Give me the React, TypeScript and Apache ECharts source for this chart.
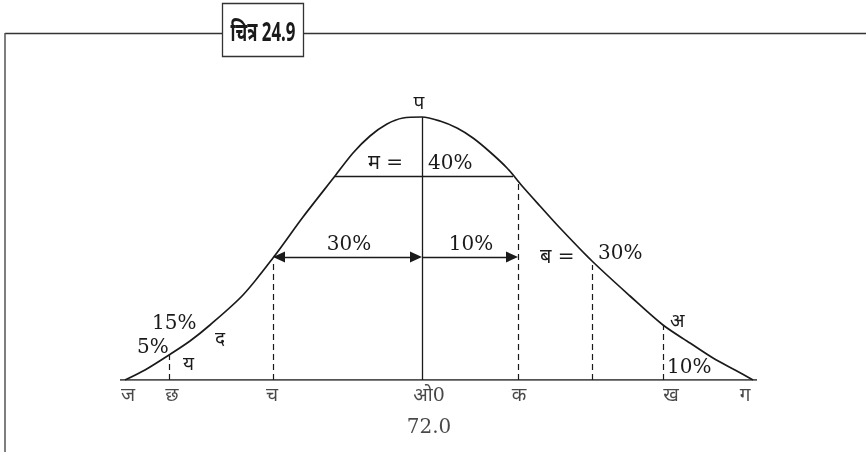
import React, { useEffect, useRef } from "react";
import * as echarts from "echarts";

// Curve (x: offset from mean, y: height; arbitrary units)
const curveX = [-2.97, -2.77, -2.53, -2.32, -2.12, -1.79, -1.49, -1.19, -0.87, -0.69, -0.52, -0.35, -0.19, 0, 0.18, 0.35, 0.51, 0.68, 0.85, 1.01, 1.18, 1.38, 1.7, 2.08, 2.41, 2.68, 2.91, 3.13, 3.31];
const curveY = [0, 0.1, 0.25, 0.39, 0.55, 0.85, 1.22, 1.63, 2.04, 2.27, 2.44, 2.56, 2.62, 2.63, 2.59, 2.52, 2.42, 2.28, 2.12, 1.93, 1.74, 1.52, 1.19, 0.84, 0.55, 0.37, 0.22, 0.1, 0];
const baselineX = [-3.02, 3.35];
const peakHeight = 2.63;
const chordY = 2.04;
const chordX = [-0.87, 0.91];
const dashedX = [-2.53, -1.49, 0.96, 1.7, 2.41];
const dashedTop = [0.25, 1.18, 1.97, 1.15, 0.55];
const arrowY = 1.23;
const arrowStops = [-1.49, 0, 0.96];
const tickLabels = ["ज", "छ", "च", "ओ0", "क", "ख", "ग"];
const tickAt = [-2.94, -2.5, -1.5, 0.07, 0.97, 2.49, 3.23];
const meanLabel = "72.0";
const title = "चित्र 24.9";

const INK = "#1a1a1a";
const SERIF = "'DejaVu Serif', 'Noto Sans', serif";

export default function App() {
  const ref = useRef<HTMLDivElement>(null);
  useEffect(() => {
    if (!ref.current) return;
    const chart = echarts.init(ref.current, undefined, { renderer: "svg" });
    const inset = 0.06;
    const txt = (text: string, x: number, y: number, size = 20, align: any = "left") => ({
      type: "text",
      x,
      y,
      silent: true,
      style: { text, fill: INK, font: `${size}px ${SERIF}`, textAlign: align, textVerticalAlign: "middle" },
    });
    chart.setOption({
      animation: false,
      grid: { left: 22, right: 4, top: 40, bottom: 72 },
      xAxis: { type: "value", min: -4, max: 4.4, show: false },
      yAxis: { type: "value", min: 0, max: 3.4, show: false },
      series: [
        {
          type: "line",
          data: curveX.map((x, i) => [x, curveY[i]]),
          smooth: 0.3,
          showSymbol: false,
          silent: true,
          lineStyle: { color: INK, width: 1.7 },
        },
        {
          type: "line",
          data: baselineX.map((x) => [x, 0]),
          showSymbol: false,
          silent: true,
          lineStyle: { color: INK, width: 1.7 },
          markLine: {
            silent: true,
            animation: false,
            label: { show: false },
            emphasis: { disabled: true },
            symbol: "none",
            lineStyle: { color: INK, width: 1.3, type: "solid" },
            data: [
              [{ coord: [0, 0] }, { coord: [0, peakHeight] }],
              [{ coord: [chordX[0], chordY] }, { coord: [chordX[1], chordY] }],
              [
                { coord: [arrowStops[0] + inset, arrowY], symbol: "triangle", symbolSize: [11, 12] },
                { coord: [arrowStops[1] - inset, arrowY], symbol: "triangle", symbolSize: [11, 12] },
              ],
              [
                { coord: [arrowStops[1], arrowY], symbol: "none" },
                { coord: [arrowStops[2] - inset, arrowY], symbol: "triangle", symbolSize: [11, 12] },
              ],
            ],
          },
        },
        {
          type: "line",
          data: [],
          markLine: {
            silent: true,
            animation: false,
            label: { show: false },
            emphasis: { disabled: true },
            symbol: "none",
            lineStyle: { color: INK, width: 1.2, type: [6, 4] },
            data: dashedX.map((x, i) => [{ coord: [x, 0] }, { coord: [x, dashedTop[i]] }]),
          },
        },
        {
          type: "scatter",
          data: tickAt.map((x) => [x, 0]),
          symbolSize: 0,
          silent: true,
          label: {
            show: true,
            position: "bottom",
            distance: 4,
            color: INK,
            fontSize: 19,
            fontFamily: SERIF,
            formatter: (p: any) => tickLabels[p.dataIndex],
          },
        },
        {
          type: "scatter",
          data: [[tickAt[3], 0]],
          symbolSize: 0,
          silent: true,
          label: {
            show: true,
            position: "bottom",
            distance: 36,
            color: INK,
            fontSize: 20,
            fontFamily: SERIF,
            formatter: meanLabel,
          },
        },
      ],
      graphic: [
        { type: "line", silent: true, shape: { x1: 5, y1: 33.5, x2: 866, y2: 33.5 }, style: { stroke: "#333", lineWidth: 1.5 } },
        { type: "line", silent: true, shape: { x1: 5, y1: 33, x2: 5, y2: 452 }, style: { stroke: "#555", lineWidth: 1.5 } },
        { type: "rect", silent: true, shape: { x: 222.5, y: 3.5, width: 81, height: 53 }, style: { fill: "#fff", stroke: "#333", lineWidth: 1.3 } },
        {
          type: "text",
          x: 263,
          y: 31,
          scaleX: 0.65,
          silent: true,
          style: { text: title, fill: INK, font: "bold 26px 'Noto Sans', sans-serif", textAlign: "center", textVerticalAlign: "middle" },
        },
        txt("प", 419, 102, 19, "center"),
        txt("म =", 368, 162),
        txt("40%", 428, 162),
        txt("30%", 349, 243, 20, "center"),
        txt("10%", 471, 243, 20, "center"),
        txt("ब =", 540, 256),
        txt("30%", 598, 252),
        txt("15%", 152, 322),
        txt("5%", 137, 346),
        txt("द", 215, 338, 19),
        txt("य", 183, 363, 19),
        txt("अ", 670, 320, 19),
        txt("10%", 667, 366),
      ],
    });
    return () => chart.dispose();
  }, []);
  return <div ref={ref} style={{ position: "fixed", left: 0, top: 0, width: 866, height: 452 }} />;
}
